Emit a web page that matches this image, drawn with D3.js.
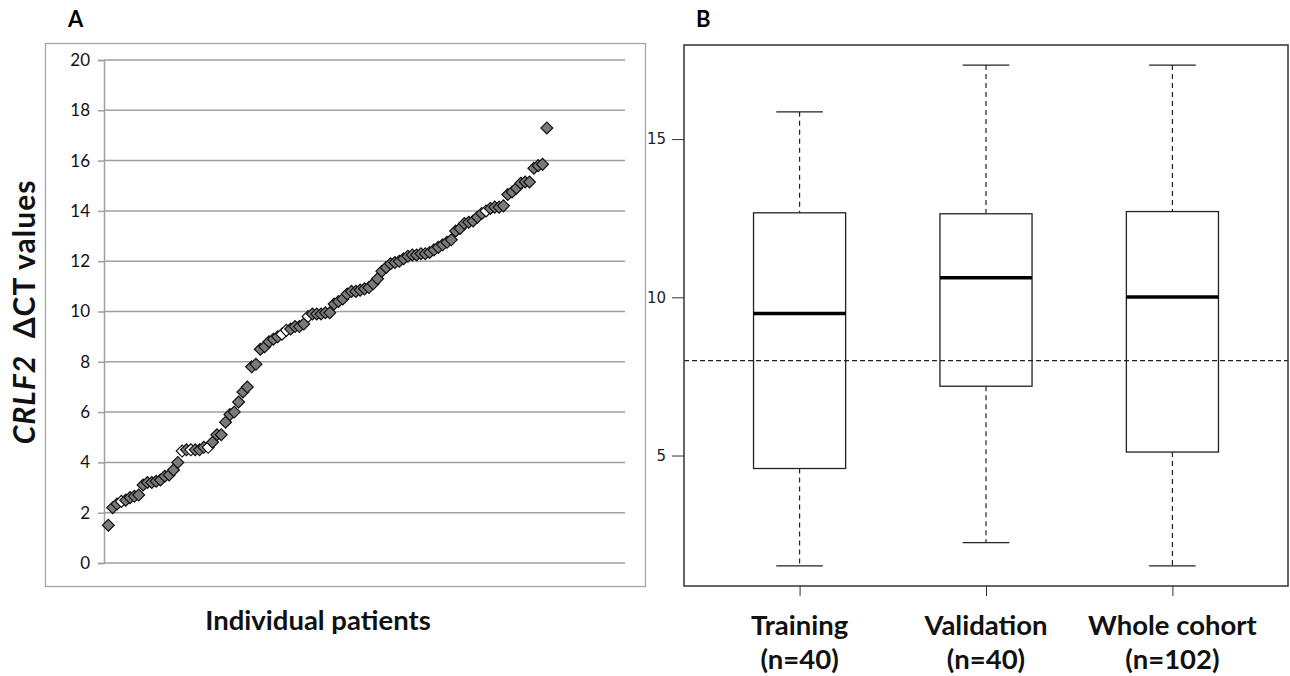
<!DOCTYPE html>
<html>
<head>
<meta charset="utf-8">
<script src="https://cdnjs.cloudflare.com/ajax/libs/d3/7.8.5/d3.min.js"></script>
<style>
  body { margin: 0; background: #fff; }
  svg { display: block; }
</style>
</head>
<body>
<div id="chart"></div>
<script>
// Panel A: sorted CRLF2 dCT values, one per patient
const deltaCt = [
  1.5, 2.2, 2.35, 2.45, 2.5, 2.6, 2.65, 2.7, 3.1, 3.2,
  3.2, 3.25, 3.3, 3.45, 3.5, 3.7, 4.0, 4.45, 4.5, 4.5,
  4.5, 4.5, 4.6, 4.6, 4.8, 5.1, 5.1, 5.6, 5.9, 6.0,
  6.4, 6.8, 7.0, 7.8, 7.9, 8.5, 8.6, 8.8, 8.9, 9.0,
  9.1, 9.25, 9.3, 9.4, 9.4, 9.5, 9.8, 9.9, 9.9, 9.9,
  9.95, 9.95, 10.3, 10.4, 10.5, 10.7, 10.8, 10.8, 10.85, 10.9,
  10.95, 11.1, 11.3, 11.6, 11.75, 11.9, 11.95, 12.0, 12.1, 12.2,
  12.25, 12.25, 12.3, 12.3, 12.35, 12.45, 12.55, 12.65, 12.75, 12.85,
  13.2, 13.3, 13.5, 13.55, 13.6, 13.75, 13.9, 14.0, 14.1, 14.15,
  14.15, 14.2, 14.65, 14.75, 14.9, 15.1, 15.15, 15.15, 15.7, 15.8,
  15.85, 17.3
];
// 1-based positions drawn as open (white) diamonds
const openPoints = [4, 18, 20, 24, 41, 42, 47, 88];
const yTicksA = [0, 2, 4, 6, 8, 10, 12, 14, 16, 18, 20];

// Panel B: box plot summaries
const groups = ["Training", "Validation", "Whole cohort"];
const groupN = ["(n=40)", "(n=40)", "(n=102)"];
const whiskerLow = [1.51, 2.25, 1.51];
const q1 = [4.59, 7.19, 5.11];
const median = [9.49, 10.62, 10.01];
const q3 = [12.67, 12.64, 12.71];
const whiskerHigh = [15.86, 17.34, 17.34];
const cutoff = 8;
const yTicksB = [5, 10, 15];

const W = 1290, H = 676;
const svg = d3.select('#chart').append('svg')
  .attr('width', W).attr('height', H);

const labelFont = 'Lato, "Open Sans", sans-serif';

// ---------- Panel A ----------
svg.append('text').attr('x', 68).attr('y', 27)
  .style('font-family', labelFont).style('font-weight', 700).style('font-size', '22px')
  .text('A');

svg.append('rect')
  .attr('x', 45.5).attr('y', 43.5).attr('width', 600).attr('height', 543)
  .attr('fill', 'none').attr('stroke', '#a6a6a6').attr('stroke-width', 1.3);

const xA = d3.scaleLinear().domain([0, 120]).range([104, 625]);
const yA = d3.scaleLinear().domain([0, 20]).range([563, 60]);

const gA = svg.append('g');
gA.selectAll('line.grid')
  .data(yTicksA)
  .enter().append('line')
  .attr('class', 'grid')
  .attr('x1', xA(0)).attr('x2', xA(120))
  .attr('y1', d => yA(d)).attr('y2', d => yA(d))
  .attr('stroke', '#a0a0a0').attr('stroke-width', 1.5);

const axisA = d3.axisLeft(yA).tickValues(yTicksA).tickSize(6).tickPadding(8);
gA.append('g')
  .attr('transform', `translate(${xA(0)},0)`)
  .call(axisA)
  .call(g => g.select('.domain').attr('stroke', '#a0a0a0').attr('stroke-width', 1.5))
  .call(g => g.selectAll('.tick line').attr('stroke', '#a0a0a0').attr('stroke-width', 1.5))
  .call(g => g.selectAll('.tick text')
    .style('font-family', labelFont).style('font-size', '17px').attr('fill', '#111'));

const diamond = d3.symbol().type(d3.symbolSquare).size(70);
const openSet = new Set(openPoints);
gA.selectAll('path.pt')
  .data(deltaCt)
  .enter().append('path')
  .attr('class', 'pt')
  .attr('d', diamond)
  .attr('transform', (d, i) => `translate(${xA(i + 1)},${yA(d)}) rotate(45)`)
  .attr('fill', (d, i) => openSet.has(i + 1) ? '#ffffff' : '#7a7a7a')
  .attr('stroke', '#111').attr('stroke-width', 1.2);

const yTitle = svg.append('text')
  .attr('transform', 'translate(35,312) rotate(-90)')
  .attr('text-anchor', 'middle')
  .style('font-family', labelFont).style('font-weight', 700).style('font-size', '30px')
  .style('letter-spacing', '1px')
  .attr('fill', '#111');
yTitle.append('tspan').style('font-style', 'italic').text('CRLF2');
yTitle.append('tspan').text('\u00a0\u00a0\u0394CT values');

svg.append('text').attr('x', 318).attr('y', 630)
  .attr('text-anchor', 'middle')
  .style('font-family', labelFont).style('font-weight', 700).style('font-size', '27.5px')
  .attr('fill', '#111')
  .text('Individual patients');

// ---------- Panel B ----------
svg.append('text').attr('x', 696).attr('y', 27)
  .style('font-family', labelFont).style('font-weight', 700).style('font-size', '22px')
  .text('B');

const bLeft = 684, bRight = 1288, bTop = 45, bBottom = 586;
const yMin = d3.min(whiskerLow), yMax = d3.max(whiskerHigh);
const padY = (yMax - yMin) * 0.04;
const yB = d3.scaleLinear().domain([yMin - padY, yMax + padY]).range([bBottom, bTop]);
const xB = d3.scaleLinear().domain([0.5 - 0.12, 3.5 + 0.12]).range([bLeft, bRight]);
const halfBox = 0.247, halfCap = 0.125;

const gB = svg.append('g');

gB.append('g')
  .attr('transform', `translate(${bLeft},0)`)
  .call(d3.axisLeft(yB).tickValues(yTicksB).tickSize(12).tickPadding(6))
  .call(g => g.select('.domain').remove())
  .call(g => g.selectAll('.tick line').attr('stroke', '#333'))
  .call(g => g.selectAll('.tick text')
    .style('font-family', '"DejaVu Sans", sans-serif').style('font-size', '15px').attr('fill', '#222'));

gB.append('g')
  .attr('transform', `translate(0,${bBottom})`)
  .call(d3.axisBottom(xB).tickValues([1, 2, 3]).tickSize(10).tickFormat(''))
  .call(g => g.select('.domain').remove())
  .call(g => g.selectAll('.tick line').attr('stroke', '#333'));

const idx = groups.map((g, i) => i);
const box = gB.selectAll('g.box').data(idx).enter().append('g').attr('class', 'box');

box.append('line')
  .attr('x1', i => xB(i + 1)).attr('x2', i => xB(i + 1))
  .attr('y1', i => yB(whiskerHigh[i])).attr('y2', i => yB(q3[i]))
  .attr('stroke', '#222').attr('stroke-width', 1.2).attr('stroke-dasharray', '5,4');
box.append('line')
  .attr('x1', i => xB(i + 1)).attr('x2', i => xB(i + 1))
  .attr('y1', i => yB(q1[i])).attr('y2', i => yB(whiskerLow[i]))
  .attr('stroke', '#222').attr('stroke-width', 1.2).attr('stroke-dasharray', '5,4');
box.append('line')
  .attr('x1', i => xB(i + 1 - halfCap)).attr('x2', i => xB(i + 1 + halfCap))
  .attr('y1', i => yB(whiskerHigh[i])).attr('y2', i => yB(whiskerHigh[i]))
  .attr('stroke', '#222').attr('stroke-width', 1.2);
box.append('line')
  .attr('x1', i => xB(i + 1 - halfCap)).attr('x2', i => xB(i + 1 + halfCap))
  .attr('y1', i => yB(whiskerLow[i])).attr('y2', i => yB(whiskerLow[i]))
  .attr('stroke', '#222').attr('stroke-width', 1.2);
box.append('rect')
  .attr('x', i => xB(i + 1 - halfBox))
  .attr('width', i => xB(i + 1 + halfBox) - xB(i + 1 - halfBox))
  .attr('y', i => yB(q3[i]))
  .attr('height', i => yB(q1[i]) - yB(q3[i]))
  .attr('fill', '#fff').attr('stroke', '#222').attr('stroke-width', 1.3);
box.append('line')
  .attr('x1', i => xB(i + 1 - halfBox)).attr('x2', i => xB(i + 1 + halfBox))
  .attr('y1', i => yB(median[i])).attr('y2', i => yB(median[i]))
  .attr('stroke', '#000').attr('stroke-width', 3.5);

gB.append('line')
  .attr('x1', bLeft).attr('x2', bRight)
  .attr('y1', yB(cutoff)).attr('y2', yB(cutoff))
  .attr('stroke', '#222').attr('stroke-width', 1.3).attr('stroke-dasharray', '5,3');

gB.append('rect')
  .attr('x', bLeft).attr('y', bTop).attr('width', bRight - bLeft).attr('height', bBottom - bTop)
  .attr('fill', 'none').attr('stroke', '#333').attr('stroke-width', 1.5);

const catLabel = gB.selectAll('text.cat').data(idx).enter().append('text')
  .attr('class', 'cat')
  .attr('text-anchor', 'middle')
  .style('font-family', labelFont).style('font-weight', 700).style('font-size', '27.5px')
  .attr('fill', '#111');
catLabel.append('tspan').attr('x', i => xB(i + 1)).attr('y', 635).text(i => groups[i]);
catLabel.append('tspan').attr('x', i => xB(i + 1)).attr('y', 669).text(i => groupN[i]);
</script>
</body>
</html>
